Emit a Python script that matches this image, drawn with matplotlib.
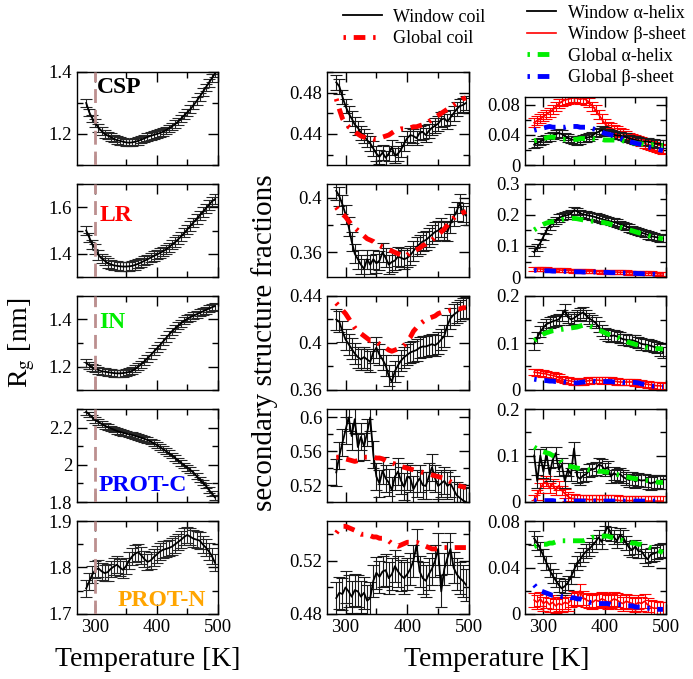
import numpy as np
import matplotlib.pyplot as plt
from matplotlib.ticker import MultipleLocator, FuncFormatter

plt.rcParams['font.family'] = 'serif'
plt.rcParams['font.serif'] = ['Liberation Serif', 'DejaVu Serif']
plt.rcParams['mathtext.fontset'] = 'stix'

# temperatures (K)
temps = [285, 290, 295, 300, 305, 310, 315, 320, 325, 330, 335, 340, 345, 350, 355,
         360, 365, 370, 375, 380, 385, 390, 395, 400, 405, 410, 415, 420, 425, 430,
         435, 440, 445, 450, 455, 460, 465, 470, 475, 480, 485, 490, 495]

names = ['CSP', 'LR', 'IN', 'PROT-C', 'PROT-N']
name_colors = ['black', '#ff0000', '#00ee00', '#0000ff', '#ffa500']

# radius of gyration (nm)
rg_csp = [1.30, 1.27, 1.25, 1.235, 1.22, 1.21, 1.20, 1.195, 1.19, 1.185, 1.18, 1.178, 1.175, 1.173, 1.172,
          1.173, 1.175, 1.178, 1.182, 1.186, 1.19, 1.194, 1.197, 1.20, 1.203, 1.207, 1.212, 1.218, 1.225, 1.232,
          1.24, 1.25, 1.26, 1.27, 1.28, 1.293, 1.306, 1.32, 1.335, 1.35, 1.365, 1.38, 1.395]
rg_lr = [1.50, 1.47, 1.44, 1.42, 1.395, 1.38, 1.37, 1.36, 1.355, 1.35, 1.348, 1.346, 1.345, 1.345, 1.346,
         1.348, 1.352, 1.357, 1.363, 1.37, 1.376, 1.383, 1.39, 1.396, 1.403, 1.41, 1.418, 1.428, 1.44, 1.45,
         1.462, 1.475, 1.49, 1.505, 1.52, 1.535, 1.55, 1.565, 1.58, 1.595, 1.61, 1.625, 1.635]
rg_in = [1.215, 1.205, 1.195, 1.19, 1.185, 1.18, 1.178, 1.176, 1.174, 1.172, 1.171, 1.171, 1.172, 1.174, 1.177,
         1.182, 1.19, 1.20, 1.21, 1.222, 1.235, 1.248, 1.262, 1.276, 1.29, 1.305, 1.32, 1.335, 1.35, 1.362,
         1.374, 1.385, 1.395, 1.403, 1.41, 1.416, 1.422, 1.428, 1.434, 1.44, 1.446, 1.452, 1.457]
rg_protc = [2.285, 2.27, 2.255, 2.24, 2.23, 2.22, 2.21, 2.203, 2.196, 2.189, 2.182, 2.177, 2.172, 2.168, 2.164,
            2.16, 2.155, 2.15, 2.145, 2.14, 2.133, 2.125, 2.116, 2.107, 2.096, 2.085, 2.074, 2.062, 2.05, 2.037,
            2.023, 2.01, 1.997, 1.984, 1.972, 1.958, 1.94, 1.922, 1.905, 1.888, 1.866, 1.845, 1.825]
rg_protn = [1.755, 1.77, 1.785, 1.795, 1.798, 1.792, 1.788, 1.79, 1.797, 1.802, 1.806, 1.80, 1.795, 1.803, 1.815,
            1.824, 1.83, 1.833, 1.826, 1.818, 1.812, 1.815, 1.822, 1.828, 1.834, 1.838, 1.84, 1.842, 1.845, 1.85,
            1.855, 1.86, 1.866, 1.87, 1.866, 1.862, 1.86, 1.858, 1.85, 1.843, 1.835, 1.825, 1.81]
rg_err = [0.012, 0.02, 0.015, 0.015, 0.018]

# coil fractions
win_coil_csp = [0.49, 0.486, 0.476, 0.467, 0.46, 0.455, 0.449, 0.446, 0.441, 0.438, 0.434, 0.431, 0.426, 0.421, 0.418,
                0.422, 0.417, 0.421, 0.427, 0.419, 0.421, 0.425, 0.431, 0.436, 0.439, 0.438, 0.436, 0.441, 0.442, 0.439,
                0.443, 0.446, 0.448, 0.45, 0.454, 0.455, 0.452, 0.456, 0.46, 0.464, 0.467, 0.468, 0.47]
glob_coil_csp = [0.474, 0.464, 0.455, 0.45, 0.447, 0.445, 0.442, 0.44, 0.438, 0.437, 0.436, 0.436, 0.435, 0.435, 0.436,
                 0.437, 0.438, 0.439, 0.441, 0.443, 0.444, 0.445, 0.445, 0.446, 0.446, 0.447, 0.447, 0.448, 0.449, 0.45,
                 0.452, 0.454, 0.456, 0.458, 0.46, 0.462, 0.464, 0.466, 0.468, 0.47, 0.472, 0.474, 0.475]
win_coil_lr = [0.405, 0.401, 0.395, 0.388, 0.379, 0.368, 0.359, 0.355, 0.351, 0.348, 0.355, 0.351, 0.355, 0.352, 0.354,
               0.36, 0.356, 0.351, 0.353, 0.354, 0.357, 0.356, 0.355, 0.356, 0.358, 0.361, 0.364, 0.366, 0.368, 0.369,
               0.371, 0.373, 0.375, 0.376, 0.378, 0.376, 0.375, 0.381, 0.386, 0.39, 0.396, 0.389, 0.387]
glob_coil_lr = [0.393, 0.39, 0.388, 0.386, 0.383, 0.38, 0.378, 0.376, 0.374, 0.372, 0.37, 0.369, 0.368, 0.366, 0.365,
                0.364, 0.363, 0.362, 0.361, 0.36, 0.359, 0.358, 0.357, 0.358, 0.36, 0.361, 0.362, 0.363, 0.365, 0.366,
                0.368, 0.369, 0.371, 0.373, 0.375, 0.377, 0.38, 0.383, 0.385, 0.387, 0.388, 0.389, 0.39]
win_coil_in = [0.42, 0.418, 0.41, 0.403, 0.399, 0.395, 0.391, 0.388, 0.386, 0.388, 0.386, 0.384, 0.392, 0.396, 0.39,
               0.386, 0.381, 0.372, 0.367, 0.376, 0.381, 0.385, 0.388, 0.39, 0.392, 0.393, 0.394, 0.396, 0.397, 0.397,
               0.398, 0.399, 0.398, 0.4, 0.403, 0.406, 0.415, 0.421, 0.424, 0.426, 0.428, 0.429, 0.43]
glob_coil_in = [0.434, 0.431, 0.428, 0.425, 0.421, 0.417, 0.413, 0.41, 0.408, 0.406, 0.404, 0.402, 0.402, 0.401, 0.399,
                0.397, 0.396, 0.394, 0.393, 0.394, 0.395, 0.396, 0.398, 0.402, 0.405, 0.41, 0.413, 0.416, 0.418, 0.42,
                0.421, 0.422, 0.423, 0.425, 0.426, 0.427, 0.427, 0.428, 0.428, 0.429, 0.429, 0.43, 0.43]
win_coil_protc = [0.535, 0.555, 0.57, 0.585, 0.6, 0.578, 0.598, 0.565, 0.577, 0.566, 0.582, 0.6, 0.556, 0.53, 0.522,
                  0.537, 0.528, 0.523, 0.514, 0.53, 0.536, 0.525, 0.518, 0.53, 0.528, 0.515, 0.522, 0.528, 0.52, 0.519,
                  0.53, 0.541, 0.528, 0.519, 0.522, 0.525, 0.519, 0.522, 0.515, 0.508, 0.505, 0.502, 0.5]
glob_coil_protc = [0.553, 0.553, 0.552, 0.551, 0.55, 0.549, 0.548, 0.549, 0.551, 0.553, 0.553, 0.553, 0.553, 0.552, 0.552,
                   0.551, 0.549, 0.547, 0.546, 0.545, 0.543, 0.542, 0.541, 0.54, 0.539, 0.538, 0.537, 0.536, 0.535, 0.534,
                   0.533, 0.532, 0.531, 0.53, 0.529, 0.528, 0.526, 0.524, 0.522, 0.52, 0.519, 0.518, 0.517]
win_coil_protn = [0.492, 0.496, 0.495, 0.5, 0.497, 0.493, 0.498, 0.497, 0.493, 0.496, 0.49, 0.492, 0.505, 0.511, 0.508,
                  0.512, 0.513, 0.507, 0.51, 0.516, 0.512, 0.509, 0.507, 0.51, 0.514, 0.52, 0.532, 0.512, 0.507, 0.505,
                  0.51, 0.514, 0.52, 0.529, 0.497, 0.514, 0.522, 0.529, 0.515, 0.51, 0.507, 0.505, 0.502]
glob_coil_protn = [0.541, 0.544, 0.546, 0.546, 0.545, 0.544, 0.543, 0.541, 0.54, 0.54, 0.539, 0.539, 0.538, 0.538, 0.537,
                   0.537, 0.536, 0.535, 0.533, 0.532, 0.531, 0.532, 0.533, 0.534, 0.534, 0.534, 0.534, 0.533, 0.532, 0.531,
                   0.53, 0.529, 0.529, 0.529, 0.53, 0.53, 0.53, 0.53, 0.53, 0.53, 0.53, 0.53, 0.53]
coil_err = [0.007, 0.007, 0.009, 0.016, 0.012]

# helix / sheet fractions
win_helix_csp = [0.027, 0.029, 0.031, 0.033, 0.035, 0.037, 0.039, 0.041, 0.042, 0.041, 0.038, 0.036, 0.034, 0.033, 0.032,
                 0.033, 0.035, 0.036, 0.037, 0.039, 0.042, 0.044, 0.046, 0.045, 0.043, 0.041, 0.04, 0.039, 0.039, 0.038,
                 0.037, 0.035, 0.034, 0.033, 0.032, 0.031, 0.031, 0.031, 0.03, 0.029, 0.028, 0.028, 0.028]
win_sheet_csp = [0.056, 0.059, 0.061, 0.064, 0.067, 0.07, 0.073, 0.077, 0.081, 0.084, 0.086, 0.087, 0.088, 0.089, 0.088,
                 0.087, 0.088, 0.086, 0.083, 0.078, 0.073, 0.067, 0.061, 0.055, 0.051, 0.049, 0.047, 0.045, 0.043, 0.041,
                 0.039, 0.037, 0.035, 0.034, 0.033, 0.031, 0.029, 0.027, 0.026, 0.025, 0.023, 0.022, 0.02]
glob_helix_csp = [0.032, 0.033, 0.034, 0.035, 0.036, 0.037, 0.037, 0.036, 0.035, 0.034, 0.034, 0.034, 0.034, 0.034, 0.034,
                  0.035, 0.035, 0.035, 0.035, 0.035, 0.034, 0.034, 0.034, 0.033, 0.033, 0.033, 0.033, 0.033, 0.033, 0.032,
                  0.031, 0.03, 0.029, 0.029, 0.028, 0.028, 0.027, 0.027, 0.027, 0.027, 0.026, 0.026, 0.026]
glob_sheet_csp = [0.046, 0.047, 0.048, 0.049, 0.05, 0.051, 0.05, 0.05, 0.05, 0.05, 0.05, 0.051, 0.051, 0.051, 0.051,
                  0.05, 0.05, 0.05, 0.049, 0.048, 0.047, 0.046, 0.044, 0.042, 0.041, 0.04, 0.039, 0.037, 0.036, 0.034,
                  0.033, 0.031, 0.03, 0.029, 0.028, 0.027, 0.025, 0.024, 0.023, 0.022, 0.021, 0.02, 0.019]

win_helix_lr = [0.08, 0.095, 0.11, 0.13, 0.15, 0.165, 0.175, 0.182, 0.19, 0.195, 0.198, 0.2, 0.205, 0.215, 0.212,
                0.205, 0.202, 0.2, 0.198, 0.196, 0.193, 0.19, 0.187, 0.184, 0.182, 0.179, 0.177, 0.174, 0.17, 0.167,
                0.163, 0.158, 0.154, 0.15, 0.147, 0.143, 0.14, 0.136, 0.132, 0.13, 0.128, 0.126, 0.125]
win_sheet_lr = [0.025, 0.026, 0.026, 0.025, 0.025, 0.024, 0.024, 0.023, 0.023, 0.022, 0.022, 0.021, 0.021, 0.02, 0.02,
                0.02, 0.019, 0.019, 0.019, 0.018, 0.018, 0.018, 0.017, 0.017, 0.017, 0.016, 0.016, 0.016, 0.015, 0.015,
                0.015, 0.014, 0.014, 0.014, 0.013, 0.013, 0.013, 0.012, 0.012, 0.011, 0.011, 0.01, 0.01]
glob_helix_lr = [0.152, 0.158, 0.165, 0.17, 0.174, 0.177, 0.179, 0.181, 0.183, 0.185, 0.187, 0.188, 0.189, 0.189, 0.188,
                 0.186, 0.184, 0.182, 0.181, 0.18, 0.179, 0.178, 0.177, 0.175, 0.173, 0.17, 0.167, 0.164, 0.161, 0.158,
                 0.155, 0.152, 0.149, 0.146, 0.143, 0.14, 0.137, 0.134, 0.131, 0.129, 0.127, 0.125, 0.123]
glob_sheet_lr = [0.022, 0.021, 0.021, 0.02, 0.02, 0.02, 0.019, 0.019, 0.019, 0.018, 0.018, 0.018, 0.017, 0.017, 0.017,
                 0.017, 0.016, 0.016, 0.016, 0.016, 0.016, 0.015, 0.015, 0.015, 0.015, 0.014, 0.014, 0.014, 0.013, 0.013,
                 0.013, 0.012, 0.012, 0.012, 0.011, 0.011, 0.01, 0.01, 0.009, 0.009, 0.008, 0.008, 0.008]

win_helix_in = [0.098, 0.112, 0.124, 0.133, 0.14, 0.143, 0.146, 0.148, 0.15, 0.158, 0.17, 0.155, 0.15, 0.153, 0.158,
                0.162, 0.165, 0.158, 0.152, 0.148, 0.143, 0.135, 0.126, 0.12, 0.117, 0.115, 0.116, 0.114, 0.111, 0.108,
                0.107, 0.106, 0.106, 0.104, 0.101, 0.098, 0.097, 0.096, 0.094, 0.092, 0.09, 0.085, 0.08]
win_sheet_in = [0.038, 0.037, 0.036, 0.035, 0.034, 0.032, 0.031, 0.029, 0.026, 0.023, 0.021, 0.02, 0.019, 0.018, 0.017,
                0.017, 0.018, 0.019, 0.02, 0.021, 0.021, 0.021, 0.02, 0.021, 0.021, 0.02, 0.019, 0.018, 0.017, 0.017,
                0.017, 0.017, 0.017, 0.016, 0.015, 0.014, 0.013, 0.012, 0.011, 0.01, 0.009, 0.009, 0.008]
glob_helix_in = [0.105, 0.11, 0.115, 0.119, 0.122, 0.124, 0.126, 0.127, 0.128, 0.129, 0.13, 0.131, 0.132, 0.133, 0.134,
                 0.136, 0.138, 0.138, 0.136, 0.134, 0.131, 0.128, 0.125, 0.122, 0.119, 0.117, 0.115, 0.113, 0.11, 0.107,
                 0.104, 0.101, 0.099, 0.097, 0.095, 0.093, 0.092, 0.09, 0.089, 0.088, 0.088, 0.088, 0.087]
glob_sheet_in = [0.023, 0.022, 0.021, 0.02, 0.02, 0.019, 0.019, 0.018, 0.018, 0.018, 0.017, 0.016, 0.015, 0.015, 0.015,
                 0.016, 0.017, 0.018, 0.019, 0.019, 0.018, 0.018, 0.018, 0.018, 0.018, 0.018, 0.017, 0.017, 0.017, 0.016,
                 0.016, 0.016, 0.016, 0.016, 0.015, 0.013, 0.012, 0.01, 0.009, 0.008, 0.008, 0.007, 0.007]

win_helix_protc = [0.1, 0.045, 0.1, 0.065, 0.105, 0.06, 0.09, 0.105, 0.07, 0.08, 0.045, 0.07, 0.06, 0.115, 0.055,
                   0.05, 0.057, 0.06, 0.068, 0.07, 0.072, 0.08, 0.078, 0.07, 0.075, 0.055, 0.062, 0.058, 0.06, 0.054,
                   0.05, 0.047, 0.05, 0.044, 0.048, 0.046, 0.047, 0.043, 0.04, 0.042, 0.044, 0.043, 0.042]
win_sheet_protc = [0.005, 0.015, 0.03, 0.04, 0.045, 0.03, 0.04, 0.025, 0.035, 0.025, 0.018, 0.012, 0.008, 0.007, 0.006,
                   0.006, 0.005, 0.006, 0.005, 0.005, 0.006, 0.005, 0.005, 0.005, 0.004, 0.004, 0.004, 0.004, 0.003, 0.003,
                   0.003, 0.003, 0.003, 0.002, 0.002, 0.002, 0.002, 0.002, 0.002, 0.002, 0.002, 0.002, 0.002]
glob_helix_protc = [0.118, 0.114, 0.11, 0.108, 0.106, 0.104, 0.1, 0.097, 0.094, 0.085, 0.08, 0.078, 0.076, 0.075, 0.073,
                    0.072, 0.071, 0.07, 0.069, 0.068, 0.067, 0.066, 0.066, 0.065, 0.064, 0.062, 0.06, 0.059, 0.058, 0.056,
                    0.054, 0.053, 0.051, 0.05, 0.049, 0.048, 0.047, 0.046, 0.045, 0.044, 0.043, 0.042, 0.042]
glob_sheet_protc = [0.003, 0.003, 0.003, 0.003, 0.003, 0.003, 0.003, 0.002, 0.002, 0.002, 0.002, 0.002, 0.002, 0.002, 0.002,
                    0.002, 0.002, 0.002, 0.002, 0.002, 0.002, 0.002, 0.002, 0.002, 0.002, 0.002, 0.002, 0.002, 0.002, 0.002,
                    0.002, 0.002, 0.002, 0.002, 0.002, 0.002, 0.002, 0.002, 0.002, 0.002, 0.002, 0.002, 0.002]

win_helix_protn = [0.065, 0.061, 0.056, 0.05, 0.044, 0.038, 0.033, 0.029, 0.025, 0.022, 0.024, 0.027, 0.032, 0.038, 0.044,
                   0.047, 0.051, 0.054, 0.056, 0.059, 0.062, 0.066, 0.062, 0.07, 0.075, 0.069, 0.066, 0.063, 0.068, 0.066,
                   0.061, 0.057, 0.055, 0.058, 0.054, 0.054, 0.05, 0.047, 0.051, 0.052, 0.053, 0.054, 0.055]
win_sheet_protn = [0.012, 0.01, 0.013, 0.009, 0.011, 0.008, 0.01, 0.007, 0.009, 0.008, 0.01, 0.009, 0.012, 0.014, 0.013,
                   0.02, 0.014, 0.012, 0.011, 0.01, 0.012, 0.011, 0.013, 0.012, 0.01, 0.011, 0.013, 0.012, 0.01, 0.009,
                   0.011, 0.01, 0.009, 0.008, 0.01, 0.009, 0.011, 0.008, 0.006, 0.005, 0.005, 0.004, 0.004]
glob_helix_protn = [0.058, 0.059, 0.059, 0.06, 0.06, 0.061, 0.061, 0.062, 0.062, 0.063, 0.063, 0.063, 0.063, 0.063, 0.063,
                    0.063, 0.063, 0.064, 0.065, 0.066, 0.066, 0.067, 0.067, 0.067, 0.067, 0.066, 0.066, 0.065, 0.064, 0.063,
                    0.062, 0.062, 0.061, 0.061, 0.06, 0.06, 0.059, 0.058, 0.057, 0.056, 0.055, 0.054, 0.053]
glob_sheet_protn = [0.025, 0.022, 0.02, 0.019, 0.018, 0.017, 0.016, 0.016, 0.016, 0.015, 0.015, 0.015, 0.014, 0.014, 0.013,
                    0.013, 0.012, 0.011, 0.01, 0.01, 0.01, 0.009, 0.009, 0.009, 0.009, 0.008, 0.008, 0.008, 0.008, 0.008,
                    0.007, 0.007, 0.007, 0.006, 0.006, 0.006, 0.005, 0.005, 0.005, 0.004, 0.004, 0.004, 0.004]
helix_err = [0.005, 0.012, 0.012, 0.014, 0.006]
sheet_err = [0.006, 0.006, 0.007, 0.01, 0.006]

rg_all = [rg_csp, rg_lr, rg_in, rg_protc, rg_protn]
win_coil = [win_coil_csp, win_coil_lr, win_coil_in, win_coil_protc, win_coil_protn]
glob_coil = [glob_coil_csp, glob_coil_lr, glob_coil_in, glob_coil_protc, glob_coil_protn]
win_helix = [win_helix_csp, win_helix_lr, win_helix_in, win_helix_protc, win_helix_protn]
win_sheet = [win_sheet_csp, win_sheet_lr, win_sheet_in, win_sheet_protc, win_sheet_protn]
glob_helix = [glob_helix_csp, glob_helix_lr, glob_helix_in, glob_helix_protc, glob_helix_protn]
glob_sheet = [glob_sheet_csp, glob_sheet_lr, glob_sheet_in, glob_sheet_protc, glob_sheet_protn]

# axis limits and ticks (major, minor)
ylims = [[(1.1, 1.4), (0.41, 0.50), (0, 0.09)],
         [(1.3, 1.7), (0.342, 0.41), (0, 0.3)],
         [(1.1, 1.5), (0.36, 0.44), (0, 0.2)],
         [(1.8, 2.3), (0.50, 0.61), (0, 0.2)],
         [(1.7, 1.9), (0.48, 0.55), (0, 0.08)]]
yticks = [[(0.2, 0.1), (0.04, 0.02), (0.04, 0.02)],
          [(0.2, 0.1), (0.04, 0.02), (0.1, 0.05)],
          [(0.2, 0.1), (0.04, 0.02), (0.1, 0.05)],
          [(0.2, 0.1), (0.04, 0.02), (0.1, 0.05)],
          [(0.1, 0.05), (0.04, 0.02), (0.04, 0.02)]]

W, H = 693, 679
fig = plt.figure(figsize=(W / 100, H / 100), dpi=100)

col_x = [(77, 218), (327, 469), (525, 666)]
row_y = [(72, 165), (184, 277), (296, 390), (409, 502), (521, 614)]

glob_dash = (0.5, 1.6, 2.4, 1.6)
fmt = FuncFormatter(lambda v, p: f"{v:g}")


def make_ax(r, c):
    x0, x1 = col_x[c]
    y0, y1 = row_y[r]
    if r == 0 and c == 2:
        y0 = 97
    ax = fig.add_axes([x0 / W, 1 - y1 / H, (x1 - x0) / W, (y1 - y0) / H])
    ax.set_xlim(270, 500)
    ax.set_ylim(*ylims[r][c])
    ax.xaxis.set_major_locator(MultipleLocator(100))
    ax.xaxis.set_minor_locator(MultipleLocator(50))
    ax.yaxis.set_major_locator(MultipleLocator(yticks[r][c][0]))
    ax.yaxis.set_minor_locator(MultipleLocator(yticks[r][c][1]))
    ax.yaxis.set_major_formatter(fmt)
    ax.tick_params(which='both', direction='in', top=True, right=True, labelsize=13.5, width=1)
    ax.tick_params(which='major', length=7)
    ax.tick_params(which='minor', length=4)
    if r < 4:
        ax.set_xticklabels([])
    for s in ax.spines.values():
        s.set_linewidth(1)
    return ax


ebkw = dict(fmt='none', capsize=4.5, elinewidth=0.8, capthick=0.8)

for r in range(5):
    # Rg column
    ax = make_ax(r, 0)
    ax.errorbar(temps, rg_all[r], yerr=rg_err[r], ecolor='0.15', **ebkw)
    ax.plot(temps, rg_all[r], color='black', lw=1.3)
    ax.axvline(300, color='#bc8f8f', lw=2, dashes=(5, 2.5), zorder=5)
    lab_pos = [(0.14, 0.83), (0.16, 0.66), (0.16, 0.72), (0.15, 0.18), (0.29, 0.15)]
    ax.text(lab_pos[r][0], lab_pos[r][1], names[r], transform=ax.transAxes, color=name_colors[r],
            fontsize=17, fontweight='bold', va='center', ha='left', zorder=6)

    # coil column
    ax = make_ax(r, 1)
    ax.errorbar(temps, win_coil[r], yerr=coil_err[r], ecolor='0.1', **ebkw)
    l_wc, = ax.plot(temps, win_coil[r], color='black', lw=1.3, label='Window coil')
    l_gc, = ax.plot(temps, glob_coil[r], color='#ff0000', lw=3.5, dashes=glob_dash, label='Global coil')

    # helix/sheet column
    ax = make_ax(r, 2)
    ax.errorbar(temps, win_sheet[r], yerr=sheet_err[r], ecolor='#ff0000', **ebkw)
    l_ws, = ax.plot(temps, win_sheet[r], color='#ff0000', lw=1.2, label='Window \u03b2-sheet')
    ax.errorbar(temps, win_helix[r], yerr=helix_err[r], ecolor='0.1', **ebkw)
    l_wh, = ax.plot(temps, win_helix[r], color='black', lw=1.3, label='Window \u03b1-helix')
    l_gh, = ax.plot(temps, glob_helix[r], color='#00ee00', lw=3.5, dashes=glob_dash, label='Global \u03b1-helix')
    l_gs, = ax.plot(temps, glob_sheet[r], color='#0000ff', lw=3.5, dashes=glob_dash, label='Global \u03b2-sheet')

fig.legend(handles=[l_wc, l_gc], loc='upper left', bbox_to_anchor=(330 / W, 1 + 4 / H), frameon=False,
           fontsize=13, handlelength=2.2, handletextpad=0.6, labelspacing=0.25, borderpad=0.2)
fig.legend(handles=[l_wh, l_ws, l_gh, l_gs], loc='upper left', bbox_to_anchor=(514 / W, 1 + 8 / H), frameon=False,
           fontsize=13, handlelength=1.6, handletextpad=0.7, labelspacing=0.25, borderpad=0.2)

fig.text(22 / W, 1 - 343 / H, 'R$_\\mathrm{g}$ [nm]', rotation=90, ha='center', va='center', fontsize=20)
fig.text(265 / W, 1 - 343 / H, 'secondary structure fractions', rotation=90, ha='center', va='center', fontsize=21)
fig.text(148 / W, 1 - 660 / H, 'Temperature [K]', ha='center', va='center', fontsize=20)
fig.text(497 / W, 1 - 660 / H, 'Temperature [K]', ha='center', va='center', fontsize=20)

fig.savefig('out.png', dpi=100)
